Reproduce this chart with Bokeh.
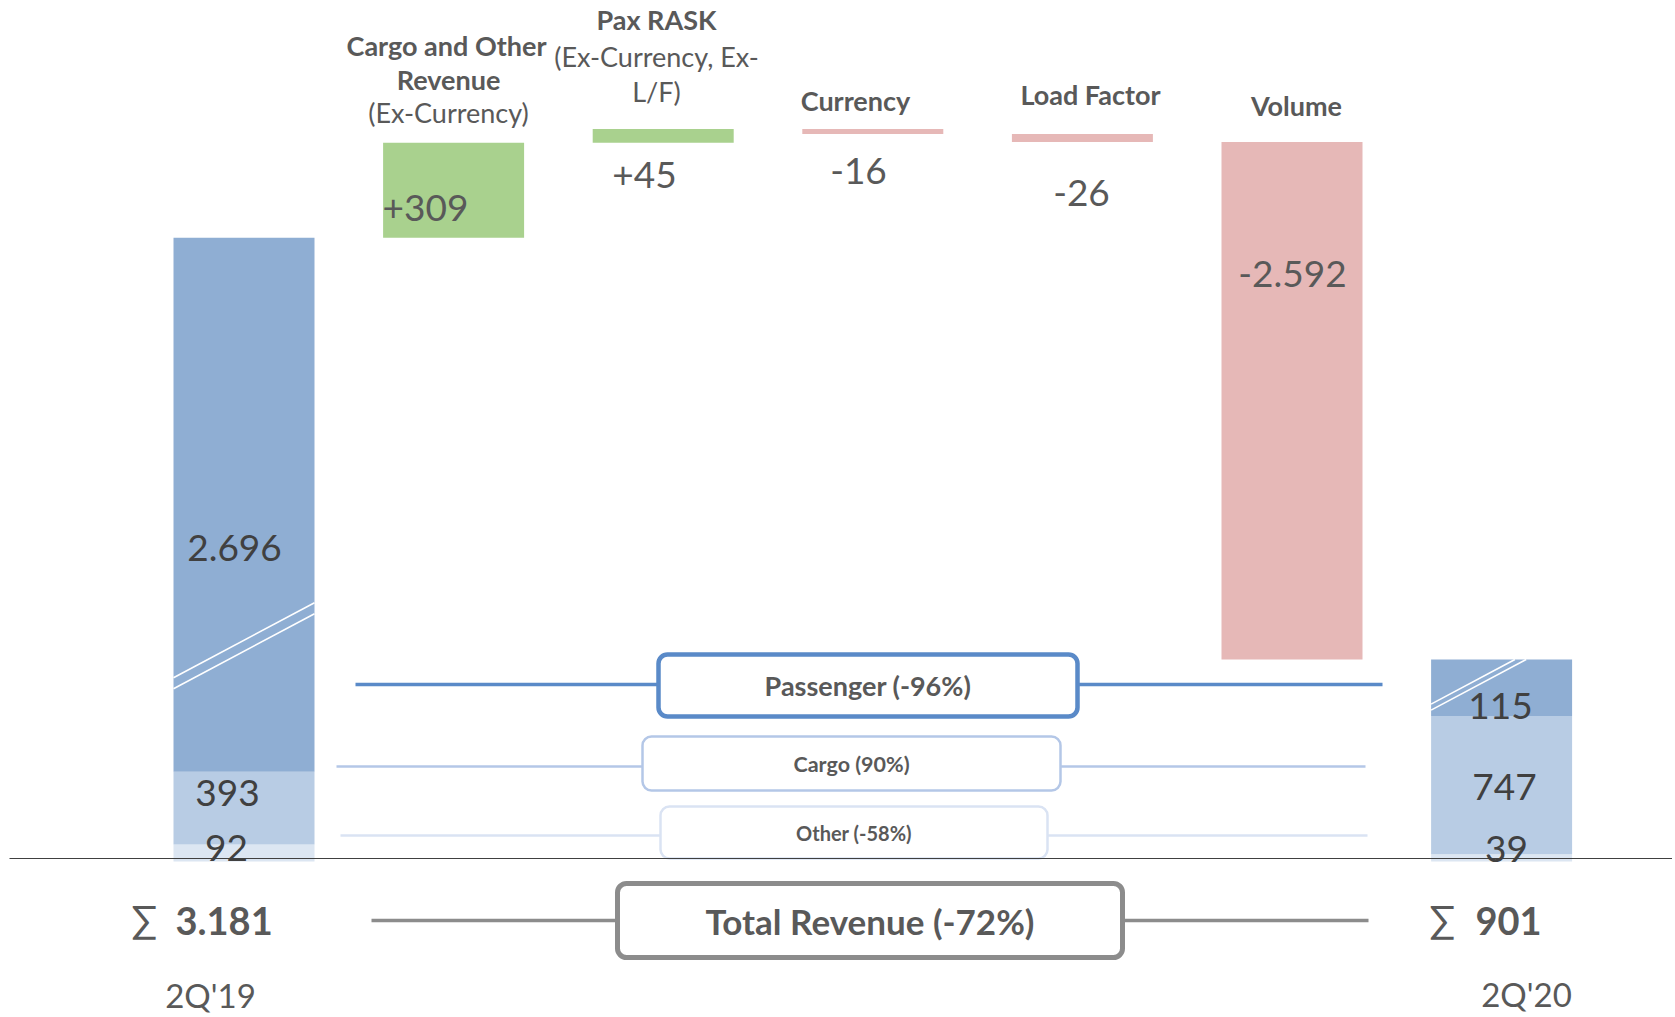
from bokeh.plotting import figure
from bokeh.models import Range1d, BoxAnnotation
from bokeh.core.properties import value
from bokeh.embed import file_html
from bokeh.resources import INLINE

# ---------------- data ----------------
categories = ["2Q'19", "Cargo and Other Revenue", "Pax RASK", "Currency", "Load Factor", "Volume", "2Q'20"]
segments = ["Other", "Cargo", "Passenger"]
start_values = [92, 393, 2696]          # 2Q'19 stack (bottom -> top)
end_values = [39, 747, 115]             # 2Q'20 stack (bottom -> top)
start_labels = ["92", "393", "2.696"]
end_labels = ["39", "747", "115"]
deltas = [309, 45, -16, -26, -2592]
delta_labels = ["+309", "+45", "-16", "-26", "-2.592"]
start_total_label = "3.181"
end_total_label = "901"
segment_changes = ["Passenger (-96%)", "Cargo (90%)", "Other (-58%)"]
total_change = "Total Revenue (-72%)"

# ---------------- broken value scale ----------------
SEG_SCALE = 0.185      # display units per value unit (stack segments)
BREAK_GAP = 35.3       # gap introduced by the axis break
UPPER_BREAK = 3181
UPPER_SCALE = 0.307


def disp(v):
    """Display position of a cumulative level on the broken axis."""
    if v <= UPPER_BREAK:
        return BREAK_GAP + SEG_SCALE * v
    return BREAK_GAP + SEG_SCALE * UPPER_BREAK + UPPER_SCALE * (v - UPPER_BREAK)


# ---------------- layout helpers (reference pixel -> data) ----------------
X0, DX = 243.5, 209.6
BASE_Y = 861.0


def X(rx):
    return (rx - X0) / DX


def Y(ry):
    return BASE_Y - ry


W, H = 1672, 1016
p = figure(width=W, height=H, output_backend="svg", toolbar_location=None,
           x_range=Range1d(X(0), X(W)), y_range=Range1d(Y(H), Y(0)),
           min_border=0, outline_line_color=None, background_fill_color="white",
           border_fill_color="white")
p.axis.visible = False
p.grid.visible = False

BAR_W = 141 / DX
C_PAX, C_CARGO, C_OTHER = "#8FAED3", "#B8CCE4", "#DCE6F2"
C_POS, C_NEG = "#A9D18E", "#E6B8B7"
FONT = value("Lato")
TXT = "#595959"
TXT_DARK = "#404040"

# ---------------- stacked bars ----------------
n = len(categories)
start_total = sum(start_values)
end_total = start_total + sum(deltas)
seg_colors = [C_OTHER, C_CARGO, C_PAX]


def stack(idx, vals, total):
    bottoms, tops = [], []
    cum = 0
    for k, v in enumerate(vals):
        b = SEG_SCALE * cum
        cum += v
        t = SEG_SCALE * cum if k < len(vals) - 1 else disp(total)  # top segment is broken
        bottoms.append(b)
        tops.append(t)
    p.vbar(x=[idx] * len(vals), width=BAR_W, bottom=bottoms, top=tops,
           fill_color=seg_colors, line_color=None)
    return bottoms, tops


sb, st = stack(0, start_values, start_total)
eb, et = stack(n - 1, end_values, end_total)

# ---------------- waterfall steps ----------------
level = start_total
wb, wt, wc = [], [], []
for d in deltas:
    nxt = level + d
    wb.append(disp(min(level, nxt)))
    wt.append(disp(max(level, nxt)))
    wc.append(C_POS if d > 0 else C_NEG)
    level = nxt
p.vbar(x=list(range(1, n - 1)), width=BAR_W, bottom=wb, top=wt, fill_color=wc, line_color=None)

# ---------------- break marks ----------------
hw = BAR_W / 2
yb0 = sb[2] + 83
p.segment(x0=[-hw, -hw], y0=[yb0, yb0 + 11], x1=[hw, hw], y1=[yb0 + 75, yb0 + 86],
          line_color="white", line_width=1.6)
ex = n - 1
slope = 75 / 141 * DX  # display units per x-index unit
y_l = [eb[2] + 12, eb[2] + 6]
x_end = [ex - hw + (et[2] - y) / slope for y in y_l]
p.segment(x0=[ex - hw, ex - hw], y0=y_l, x1=x_end, y1=[et[2], et[2]],
          line_color="white", line_width=1.6)

# ---------------- baseline ----------------
p.segment(x0=[X(9)], y0=[Y(858)], x1=[X(1675)], y1=[Y(858)], line_color="#404040", line_width=1.2)

# ---------------- connector lines & boxes ----------------
box_specs = [
    (segment_changes[0], 658, 1077, 654, 716, 684, 355, 1382, "#5A8AC8", 4.5, 3.5, "27px"),
    (segment_changes[1], 642, 1060, 736, 790, 766, 336, 1365, "#B4C7E7", 2.5, 2.5, "21.5px"),
    (segment_changes[2], 660, 1047, 806, 858, 835, 340, 1367, "#DAE3F3", 2.5, 2.5, "20px"),
    (total_change, 617, 1122, 883, 957, 920, 371, 1368, "#8C8C8C", 5, 3.5, "35px"),
]
for lab, l, r, t, b, ly, ll, lr, col, lw, lnw, fs in box_specs:
    p.segment(x0=[X(ll), X(r)], y0=[Y(ly), Y(ly)], x1=[X(l), X(lr)], y1=[Y(ly), Y(ly)],
              line_color=col, line_width=lnw)
    p.add_layout(BoxAnnotation(left=X(l), right=X(r), top=Y(t), bottom=Y(b),
                               fill_color="white", fill_alpha=1.0, line_color=col,
                               line_alpha=1.0, line_width=lw, border_radius=9,
                               level="underlay"))
    p.text(x=[X((l + r) / 2)], y=[Y((t + b) / 2)], text=[lab], text_font=FONT,
           text_font_size=fs, text_font_style="bold", text_color=TXT,
           text_align="center", text_baseline="middle")

# ---------------- category titles ----------------
title_lines = [
    ("Cargo and Other", 446, 45, "bold"), ("Revenue", 448, 79, "bold"),
    ("(Ex-Currency)", 448, 112, "normal"),
    ("Pax RASK", 656, 19, "bold"), ("(Ex-Currency, Ex-", 656, 56, "normal"), ("L/F)", 656, 91, "normal"),
    ("Currency", 855, 100, "bold"), ("Load Factor", 1090, 94, "bold"), ("Volume", 1296, 105, "bold"),
]
for txt, rx, ry, style in title_lines:
    p.text(x=[X(rx)], y=[Y(ry)], text=[txt], text_font=FONT, text_font_size="27px",
           text_font_style=style, text_color=TXT, text_align="center", text_baseline="middle")

# ---------------- value labels ----------------
d_pos = [(382, 207, "left"), (644, 174, "center"), (858, 170, "center"),
         (1081, 192, "center"), (1292, 273, "center")]
for lab, (rx, ry, al) in zip(delta_labels, d_pos):
    p.text(x=[X(rx)], y=[Y(ry)], text=[lab], text_font=FONT, text_font_size="37px",
           text_color=TXT, text_align=al, text_baseline="middle")

s_pos = [(226, 847), (227, 792), (234, 547)]
e_pos = [(1506, 848), (1504, 786), (1500, 705)]
for lab, (rx, ry) in list(zip(start_labels, s_pos)) + list(zip(end_labels, e_pos)):
    p.text(x=[X(rx)], y=[Y(ry)], text=[lab], text_font=FONT, text_font_size="37px",
           text_color=TXT_DARK, text_align="center", text_baseline="middle")

# totals
for sx, nx, lab in [(144, 175, start_total_label), (1442, 1475, end_total_label)]:
    p.text(x=[X(sx)], y=[Y(917)], text=["\u2211"], text_font=FONT, text_font_size="38px",
           text_color=TXT, text_align="center", text_baseline="middle")
    p.text(x=[X(nx)], y=[Y(920)], text=[lab], text_font=FONT, text_font_size="38px",
           text_font_style="bold", text_color=TXT, text_align="left", text_baseline="middle")

# period labels
for lab, rx, ry in [(categories[0], 210, 994), (categories[-1], 1526, 993)]:
    p.text(x=[X(rx)], y=[Y(ry)], text=[lab], text_font=FONT, text_font_size="33px",
           text_color=TXT, text_align="center", text_baseline="middle")

open("out.html", "w").write(file_html(p, INLINE))
